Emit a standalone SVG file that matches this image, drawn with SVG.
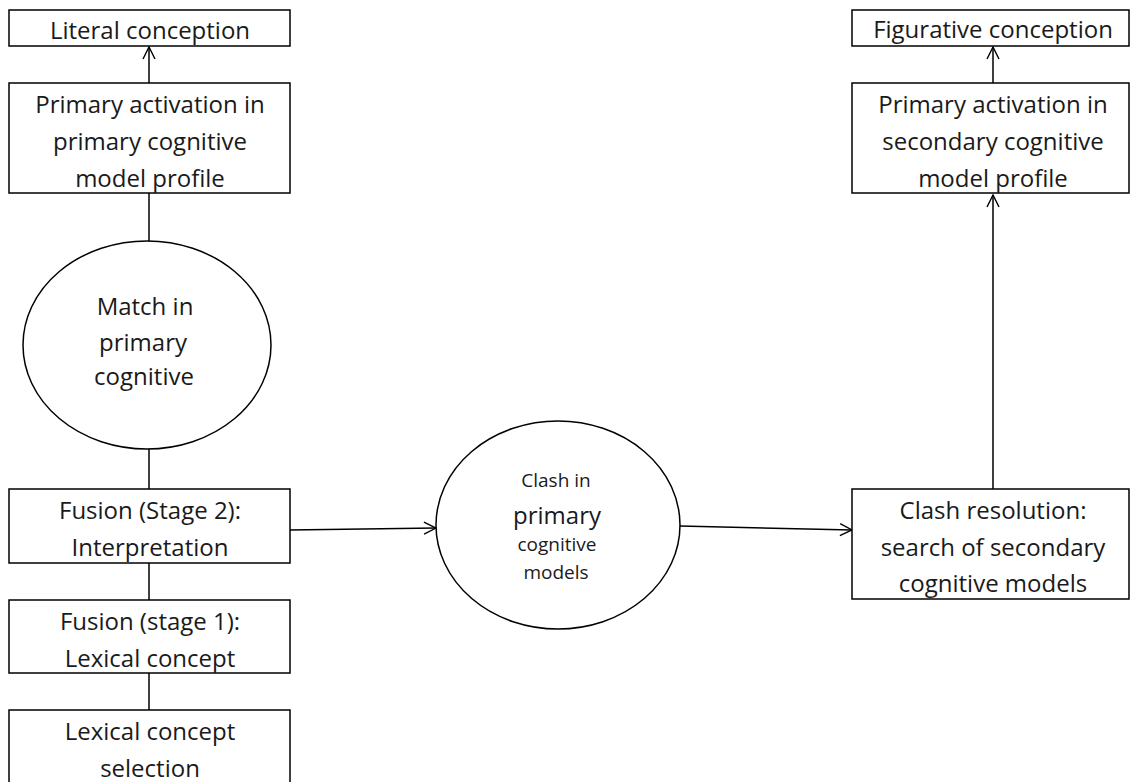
<svg xmlns="http://www.w3.org/2000/svg" width="1130" height="782" viewBox="0 0 1130 782">
<defs>
<marker id="arr" viewBox="0 0 14 14" refX="13" refY="7" markerWidth="14" markerHeight="14" markerUnits="userSpaceOnUse" orient="auto">
<path d="M1,1 L13,7 L1,13" fill="none" stroke="#000" stroke-width="1.4"/>
</marker>
<style>
.box{fill:#fff;stroke:#000;stroke-width:1.5}
.t{font-family:"Open Sans","Liberation Sans",Arial,sans-serif;font-size:24px;fill:#1a1a1a;text-anchor:middle;dominant-baseline:central}
.s{font-size:19px}
.c{stroke:#000;stroke-width:1.5;fill:none}
</style>
</defs>
<rect width="1130" height="782" fill="#fff"/>
<g id="connectors">
<line class="c" x1="149" y1="83" x2="149" y2="47" marker-end="url(#arr)"/>
<line class="c" x1="149" y1="193" x2="149" y2="241"/>
<line class="c" x1="149" y1="449" x2="149" y2="489"/>
<line class="c" x1="149" y1="563" x2="149" y2="600"/>
<line class="c" x1="149" y1="673" x2="149" y2="710"/>
<line class="c" x1="290" y1="530" x2="436" y2="528" marker-end="url(#arr)"/>
<line class="c" x1="680" y1="526" x2="852" y2="530" marker-end="url(#arr)"/>
<line class="c" x1="993" y1="489" x2="993" y2="195" marker-end="url(#arr)"/>
<line class="c" x1="993" y1="83" x2="993" y2="47" marker-end="url(#arr)"/>
</g>
<g id="literal">
<rect class="box" x="9" y="10" width="281" height="36"/>
<text class="t" x="150" y="29">Literal conception</text>
</g>
<g id="primary-activation-primary">
<rect class="box" x="9" y="83" width="281" height="110"/>
<text class="t" x="150" y="103">Primary activation in</text>
<text class="t" x="150" y="140">primary cognitive</text>
<text class="t" x="150" y="177">model profile</text>
</g>
<g id="match">
<ellipse class="box" cx="147" cy="345" rx="124" ry="104"/>
<text class="t" x="145" y="305">Match in</text>
<text class="t" x="143" y="341">primary</text>
<text class="t" x="144" y="375">cognitive</text>
</g>
<g id="fusion2">
<rect class="box" x="9" y="489" width="281" height="74"/>
<text class="t" x="150" y="509">Fusion (Stage 2):</text>
<text class="t" x="150" y="546">Interpretation</text>
</g>
<g id="fusion1">
<rect class="box" x="9" y="600" width="281" height="73"/>
<text class="t" x="150" y="620">Fusion (stage 1):</text>
<text class="t" x="150" y="657">Lexical concept</text>
</g>
<g id="selection">
<rect class="box" x="9" y="710" width="281" height="80"/>
<text class="t" x="150" y="730">Lexical concept</text>
<text class="t" x="150" y="767">selection</text>
</g>
<g id="clash">
<ellipse class="box" cx="558" cy="525" rx="122" ry="104"/>
<text class="t s" x="556" y="480">Clash in</text>
<text class="t" x="557" y="514">primary</text>
<text class="t s" x="557" y="544">cognitive</text>
<text class="t s" x="556" y="572">models</text>
</g>
<g id="clash-resolution">
<rect class="box" x="852" y="489" width="277" height="110"/>
<text class="t" x="993" y="509">Clash resolution:</text>
<text class="t" x="993" y="546">search of secondary</text>
<text class="t" x="993" y="582">cognitive models</text>
</g>
<g id="primary-activation-secondary">
<rect class="box" x="852" y="83" width="277" height="110"/>
<text class="t" x="993" y="103">Primary activation in</text>
<text class="t" x="993" y="140">secondary cognitive</text>
<text class="t" x="993" y="177">model profile</text>
</g>
<g id="figurative">
<rect class="box" x="852" y="10" width="277" height="36"/>
<text class="t" x="993" y="28">Figurative conception</text>
</g>
</svg>
